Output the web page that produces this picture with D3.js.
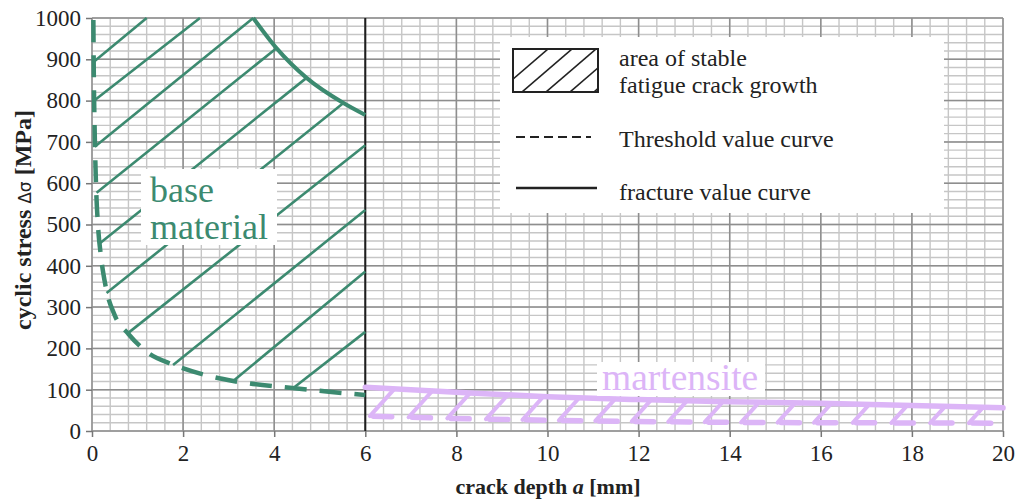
<!DOCTYPE html>
<html>
<head>
<meta charset="utf-8">
<script src="https://cdn.jsdelivr.net/npm/d3@7"></script>
<style>
  body { margin: 0; background: #fff; }
  text { font-family: "Liberation Serif", "Times New Roman", serif; }
</style>
</head>
<body>
<svg id="chart" width="1019" height="501"></svg>
<script>
// ---- data ----------------------------------------------------------------
const xTicks = [0, 2, 4, 6, 8, 10, 12, 14, 16, 18, 20];
const yTicks = [0, 100, 200, 300, 400, 500, 600, 700, 800, 900, 1000];

// base material: threshold value curve [crack depth mm, stress MPa]
const baseThreshold = [
  [0.03, 995], [0.04, 860], [0.06, 720], [0.09, 590], [0.13, 500],
  [0.2, 420], [0.3, 350], [0.5, 280], [0.8, 235], [1.2, 192],
  [1.8, 160], [2.5, 135], [3.1, 121], [4.4, 104], [5.2, 95], [6.0, 87]
];
// base material: fracture value curve
const baseFracture = [[3.54, 1000], [4.05, 927], [4.71, 855], [5.52, 794], [6.0, 765]];
// base material: hatch segments [x1, y1, x2, y2]
const baseHatch = [
  [0.04, 894, 1.2, 1000],
  [0.05, 800, 2.37, 1000],
  [0.06, 688, 3.54, 1000],
  [0.1, 577, 4.05, 927],
  [0.18, 455, 4.71, 855],
  [0.32, 334, 5.52, 794],
  [0.79, 237, 6.0, 692],
  [1.78, 160, 6.0, 535],
  [3.1, 121, 6.0, 386],
  [4.42, 104, 6.0, 240]
];

// martensite: threshold and fracture value curves
const martThreshold = [[6.1, 36], [8, 30], [10, 26], [12, 23], [14, 21], [16, 20], [18, 19.5], [20, 19]];
const martFracture = [[6.0, 106], [8, 94], [10, 83], [12, 76], [14, 71], [16, 67], [18, 62], [20, 56]];
// martensite: hatch start positions on the threshold curve [mm]
const martHatchStarts = [6.1, 6.95, 7.8, 8.65, 9.45, 10.25, 11.05, 11.85, 12.65, 13.45,
                         14.25, 15.05, 15.85, 16.7, 17.55, 18.4, 19.25];

const legendItems = ["Threshold value curve", "fracture value curve"];

// ---- layout --------------------------------------------------------------
const GREEN = "#3c8a70";
const LILAC = "#dcb5f7";
const svg = d3.select("#chart");
const x = d3.scaleLinear().domain([0, 20]).range([92, 1003]);
const y = d3.scaleLinear().domain([0, 1000]).range([431, 18]);

// ---- grid ----------------------------------------------------------------
const grid = svg.append("g");
grid.selectAll("line.vmin").data(d3.range(0, 20.001, 0.4)).join("line")
  .attr("x1", d => x(d)).attr("x2", d => x(d)).attr("y1", y(0)).attr("y2", y(1000))
  .attr("stroke", "#c6c6c6").attr("stroke-width", 1.4);
grid.selectAll("line.hmin").data(d3.range(0, 1000.001, 20)).join("line")
  .attr("y1", d => y(d)).attr("y2", d => y(d)).attr("x1", x(0)).attr("x2", x(20))
  .attr("stroke", "#c6c6c6").attr("stroke-width", 1.4);
grid.selectAll("line.vmaj").data(xTicks).join("line")
  .attr("x1", d => x(d)).attr("x2", d => x(d)).attr("y1", y(0)).attr("y2", y(1000))
  .attr("stroke", "#8e8e8e").attr("stroke-width", 1.5);
grid.selectAll("line.hmaj").data(yTicks).join("line")
  .attr("y1", d => y(d)).attr("y2", d => y(d)).attr("x1", x(0)).attr("x2", x(20))
  .attr("stroke", "#8e8e8e").attr("stroke-width", 1.5);

// ---- axes ----------------------------------------------------------------
const yAxis = svg.append("g").attr("transform", `translate(${x(0)},0)`)
  .call(d3.axisLeft(y).tickValues(yTicks).tickFormat(d3.format("d")).tickSize(6).tickPadding(5));
const xAxis = svg.append("g").attr("transform", `translate(0,${y(0)})`)
  .call(d3.axisBottom(x).tickValues(xTicks).tickFormat(d3.format("d")).tickSize(6).tickPadding(8));
[xAxis, yAxis].forEach(g => {
  g.attr("font-family", null);
  g.select(".domain").remove();
  g.selectAll(".tick line").attr("stroke", "#777").attr("stroke-width", 1.5);
  g.selectAll(".tick text").attr("fill", "#222")
    .style("font-family", '"Liberation Serif", serif').style("font-size", "23px");
});

// border at x = 6 mm separating the two materials
svg.append("line")
  .attr("x1", x(6)).attr("x2", x(6)).attr("y1", y(0)).attr("y2", y(1000))
  .attr("stroke", "#1e1e1e").attr("stroke-width", 2);

// ---- base material -------------------------------------------------------
const line = d3.line().x(d => x(d[0])).y(d => y(d[1]));
const smooth = d3.line().x(d => x(d[0])).y(d => y(d[1])).curve(d3.curveMonotoneX);

svg.append("g").selectAll("line").data(baseHatch).join("line")
  .attr("x1", d => x(d[0])).attr("y1", d => y(d[1]))
  .attr("x2", d => x(d[2])).attr("y2", d => y(d[3]))
  .attr("stroke", GREEN).attr("stroke-width", 2.6);

svg.append("path").datum(baseThreshold).attr("d", smooth)
  .attr("fill", "none").attr("stroke", GREEN).attr("stroke-width", 4.5)
  .attr("stroke-dasharray", "22,13");

svg.append("path").datum(baseFracture).attr("d", smooth)
  .attr("fill", "none").attr("stroke", GREEN).attr("stroke-width", 4);

// ---- martensite ----------------------------------------------------------
const thrAt = d3.scaleLinear().domain(martThreshold.map(d => d[0])).range(martThreshold.map(d => d[1]));
const fraAt = d3.scaleLinear().domain(martFracture.map(d => d[0])).range(martFracture.map(d => d[1]));
// a roughly 45 degree stroke (in screen space) from the threshold up to the fracture curve
const pxPerMM = x(1) - x(0), pxPerMPa = y(0) - y(1);
const hatchEnd = x0 => {
  let x1 = x0;
  for (let i = 0; i < 30; i++) {
    const dy = (fraAt(x1) - thrAt(x0)) * pxPerMPa;
    x1 = Math.min(20, x0 + 0.9 * dy / pxPerMM);
  }
  return x1;
};
svg.append("g").selectAll("line").data(martHatchStarts).join("line")
  .attr("x1", d => x(d)).attr("y1", d => y(thrAt(d)))
  .attr("x2", d => x(hatchEnd(d))).attr("y2", d => y(fraAt(hatchEnd(d))))
  .attr("stroke", LILAC).attr("stroke-width", 4).attr("stroke-linecap", "round");

// threshold dashes begin at each hatch foot
svg.append("g").selectAll("path").data(martHatchStarts).join("path")
  .attr("d", d => {
    const e = Math.min(20, d + 0.48);
    return line([[d + 0.08, thrAt(d + 0.08)], [e, thrAt(e)]]);
  })
  .attr("fill", "none").attr("stroke", LILAC).attr("stroke-width", 5.5).attr("stroke-linecap", "round");

svg.append("path").datum(martFracture).attr("d", smooth)
  .attr("fill", "none").attr("stroke", LILAC).attr("stroke-width", 5.5).attr("stroke-linecap", "round");

// ---- material labels ------------------------------------------------------
svg.append("rect").attr("x", 141).attr("y", 169).attr("width", 136).attr("height", 76).attr("fill", "#fff");
svg.append("text").attr("x", 150).attr("y", 202).attr("fill", GREEN).style("font-size", "36px").text("base");
svg.append("text").attr("x", 150).attr("y", 239).attr("fill", GREEN).style("font-size", "36px").text("material");

svg.append("rect").attr("x", 597).attr("y", 362).attr("width", 168).attr("height", 34).attr("fill", "#fff");
svg.append("text").attr("x", 602).attr("y", 390).attr("fill", LILAC).style("font-size", "37.5px").text("martensite");

// ---- legend --------------------------------------------------------------
const lg = svg.append("g");
lg.append("rect").attr("x", 500).attr("y", 37).attr("width", 444).attr("height", 176).attr("fill", "#fff");
svg.append("clipPath").attr("id", "lgclip").append("rect")
  .attr("x", 514).attr("y", 50).attr("width", 83).attr("height", 41);
lg.append("g").attr("clip-path", "url(#lgclip)")
  .selectAll("line").data([0, 1, 2, 3, 4]).join("line")
  .attr("x1", i => 498 + i * 24).attr("y1", 92)
  .attr("x2", i => 498 + i * 24 + 50).attr("y2", 49)
  .attr("stroke", "#222").attr("stroke-width", 1.6);
lg.append("rect").attr("x", 513).attr("y", 49).attr("width", 85).attr("height", 43)
  .attr("fill", "none").attr("stroke", "#222").attr("stroke-width", 2);
lg.append("text").attr("x", 619).attr("y", 66).attr("fill", "#222").style("font-size", "24px").text("area of stable");
lg.append("text").attr("x", 619).attr("y", 93).attr("fill", "#222").style("font-size", "24px").text("fatigue crack growth");

lg.append("line").attr("x1", 516).attr("x2", 591).attr("y1", 137).attr("y2", 137)
  .attr("stroke", "#222").attr("stroke-width", 2).attr("stroke-dasharray", "9,5");
lg.append("text").attr("x", 619).attr("y", 147).attr("fill", "#222").style("font-size", "24px").text(legendItems[0]);
lg.append("line").attr("x1", 516).attr("x2", 597).attr("y1", 188).attr("y2", 188)
  .attr("stroke", "#222").attr("stroke-width", 2.5);
lg.append("text").attr("x", 619).attr("y", 200).attr("fill", "#222").style("font-size", "24px").text(legendItems[1]);

// ---- axis titles ---------------------------------------------------------
const xt = svg.append("text").attr("x", 548).attr("y", 494).attr("text-anchor", "middle")
  .attr("fill", "#222").style("font-size", "22px").style("font-weight", "bold");
xt.append("tspan").text("crack depth ");
xt.append("tspan").style("font-style", "italic").text("a");
xt.append("tspan").text(" [mm]");

const yt = svg.append("text").attr("transform", "translate(31,220) rotate(-90)")
  .attr("text-anchor", "middle").attr("fill", "#222")
  .style("font-size", "24px").style("font-weight", "bold");
yt.append("tspan").text("cyclic stress ");
yt.append("tspan").style("font-weight", "normal").style("font-size", "17px")
  .style("font-family", '"DejaVu Sans", sans-serif').text("Δσ");
yt.append("tspan").text(" [MPa]");
</script>
</body>
</html>
